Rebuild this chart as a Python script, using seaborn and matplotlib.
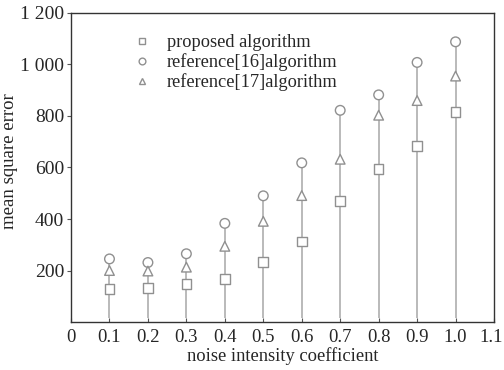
import pandas as pd
import matplotlib
matplotlib.use('Agg')
import matplotlib.pyplot as plt
import matplotlib.transforms as mtransforms
import seaborn as sns

noise = [0.1, 0.2, 0.3, 0.4, 0.5, 0.6, 0.7, 0.8, 0.9, 1.0]
proposed = [129, 131, 147, 166, 233, 312, 469, 593, 683, 816]
ref16 = [245, 231, 265, 383, 490, 618, 822, 882, 1008, 1088]
ref17 = [200, 198, 213, 294, 391, 491, 632, 803, 860, 955]
names = ['proposed algorithm', 'reference[16]algorithm', 'reference[17]algorithm']

df = pd.DataFrame({
    'noise': noise * 3,
    'mse': proposed + ref16 + ref17,
    'method': [names[0]] * 10 + [names[1]] * 10 + [names[2]] * 10,
})

sns.set_style('ticks')
plt.rcParams['font.family'] = ['Liberation Serif', 'DejaVu Serif']

fig = plt.figure(figsize=(5.04, 3.7), dpi=100)
ax = fig.add_axes([0.1409, 0.1297, 0.8393, 0.8352])

# stems from the axis up to the highest marker
tops = [max(a, b, c) for a, b, c in zip(proposed, ref16, ref17)]
ax.vlines(noise, 15, tops, color='#b4b4b4', lw=1.3, zorder=1)

sns.scatterplot(data=df, x='noise', y='mse', style='method', hue='method',
                palette=['white'] * 3,
                markers={names[0]: 's', names[1]: 'o', names[2]: '^'},
                s=48, edgecolor='#909090', linewidth=1.0, zorder=3, ax=ax)

ax.set_xlim(0, 1.1)
ax.set_ylim(0, 1200)
ax.set_xticks([i / 10 for i in range(12)])
ax.set_xticklabels(['0'] + ['%.1f' % (i / 10) for i in range(1, 12)], fontsize=13.5)
ax.set_yticks([200, 400, 600, 800, 1000, 1200])
ax.set_yticklabels(['200', '400', '600', '800', '1 000', '1 200'], fontsize=14)
ax.tick_params(axis='x', direction='in', length=3, color='#555555', pad=5)
ax.tick_params(axis='y', direction='out', length=3, color='#555555', pad=2)
ax.set_xlabel('noise intensity coefficient', fontsize=13.3, labelpad=1)
ax.set_ylabel('mean square error', fontsize=13.5)
ax.yaxis.set_label_coords(-0.125, 0.52)
for side in ['top', 'right', 'bottom', 'left']:
    ax.spines[side].set_color('#333333')
    ax.spines[side].set_linewidth(1.0)

# last x label sits right on the figure edge, nudge it in a little
last = ax.get_xticklabels()[-1]
last.set_transform(last.get_transform() + mtransforms.ScaledTranslation(-3 / 100, 0, fig.dpi_scale_trans))

handles, labels = ax.get_legend_handles_labels()
ax.legend(handles, labels, loc='upper left', bbox_to_anchor=(0.106, 0.955),
          frameon=False, fontsize=13.2, handletextpad=0.4, labelspacing=0.12,
          markerscale=0.7, borderaxespad=0)

fig.savefig('out.png', dpi=100)
